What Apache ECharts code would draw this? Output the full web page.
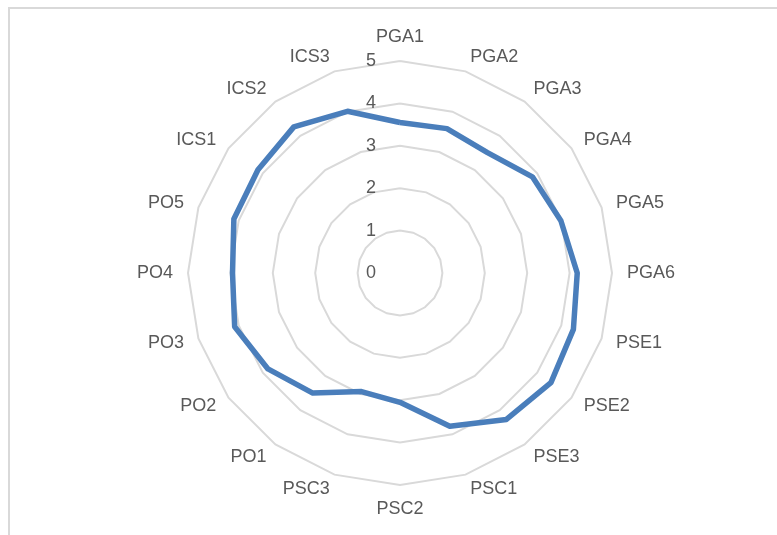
<!DOCTYPE html>
<html>
<head>
<meta charset="utf-8">
<script src="https://cdn.jsdelivr.net/npm/echarts@6/dist/echarts.min.js"></script>
<style>
  html, body { margin: 0; padding: 0; background: #fff; }
  #myCharts { width: 777px; height: 535px; }
</style>
</head>
<body>
<div id="myCharts"></div>
<script>
// indicators in clockwise order starting at the top
let categories = ["PGA1", "PGA2", "PGA3", "PGA4", "PGA5", "PGA6", "PSE1", "PSE2", "PSE3",
  "PSC1", "PSC2", "PSC3", "PO1", "PO2", "PO3", "PO4", "PO5", "ICS1", "ICS2", "ICS3"];
let values = [3.55, 3.58, 3.51, 3.86, 3.99, 4.18, 4.3, 4.4, 4.27,
  3.8, 3.05, 2.94, 3.5, 3.85, 4.1, 3.95, 4.12, 4.14, 4.26, 4.01];
let axisMax = 5;

// echarts radar goes counter-clockwise, so keep the first item and reverse the rest
function clockwise(arr) {
  return [arr[0]].concat(arr.slice(1).reverse());
}

let names = clockwise(categories);
let indicator = names.map(function (n, i) {
  let item = { name: n, min: 0, max: axisMax };
  if (i === 0) {
    item.axisLabel = { show: true };
  }
  return item;
});

let myChart = echarts.init(document.getElementById("myCharts"));
myChart.setOption({
  animation: false,
  graphic: [
    {
      type: "polyline",
      shape: { points: [[9, 535], [9, 8], [777, 8]] },
      style: { stroke: "#d9d9d9", lineWidth: 2, fill: null },
      silent: true,
    },
  ],
  radar: {
    center: [400, 273],
    radius: 212,
    startAngle: 90,
    shape: "polygon",
    splitNumber: 5,
    nameGap: 15,
    axisName: {
      color: "#595959",
      fontSize: 18,
      fontFamily: "Liberation Sans",
    },
    axisLine: { show: false },
    axisTick: { show: false },
    axisLabel: {
      show: false,
      color: "#595959",
      fontSize: 18,
      fontFamily: "Liberation Sans",
      margin: 24,
    },
    splitLine: {
      lineStyle: { color: "#d9d9d9", width: 2 },
    },
    splitArea: { show: false },
    indicator: indicator,
  },
  series: [
    {
      type: "radar",
      symbol: "none",
      lineStyle: { color: "#4a7ebb", width: 5.5, join: "round" },
      data: [{ value: clockwise(values) }],
    },
  ],
});
</script>
</body>
</html>
